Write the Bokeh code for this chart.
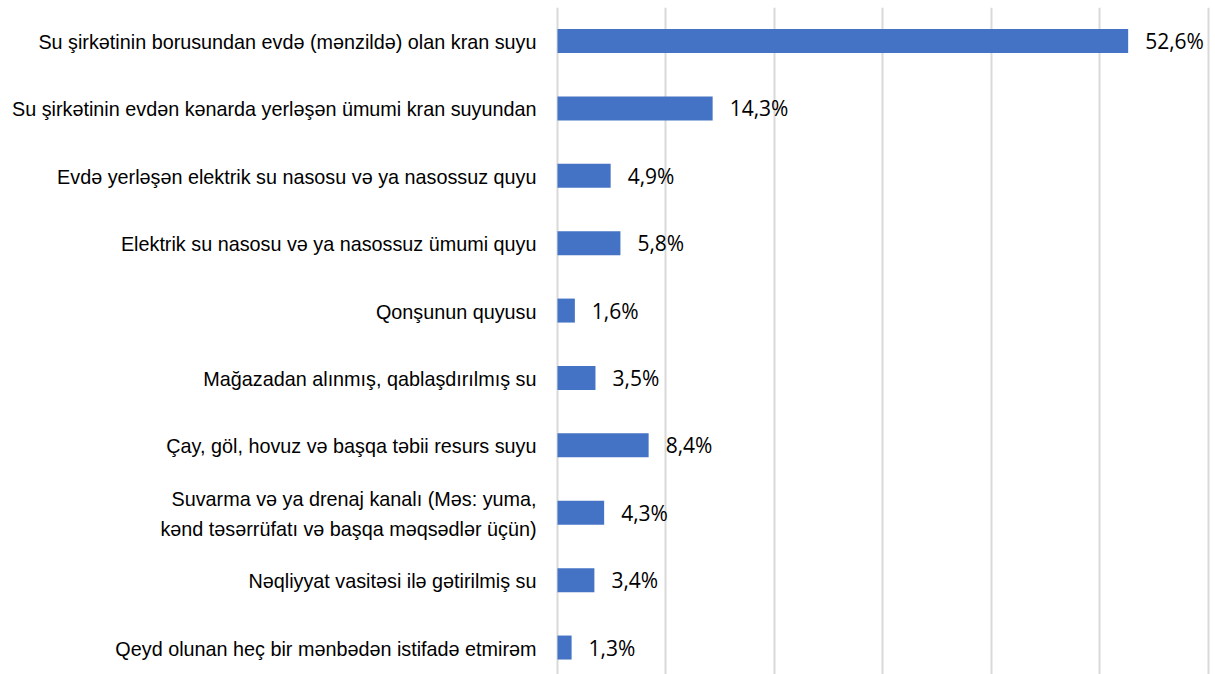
from bokeh.plotting import figure
from bokeh.models import ColumnDataSource, Range1d, Grid, FixedTicker
from bokeh.core.properties import value
from bokeh.embed import file_html
from bokeh.resources import INLINE

categories = [
    "Su şirkətinin borusundan evdə (mənzildə) olan kran suyu",
    "Su şirkətinin evdən kənarda yerləşən ümumi kran suyundan",
    "Evdə yerləşən elektrik su nasosu və ya nasossuz quyu",
    "Elektrik su nasosu və ya nasossuz ümumi quyu",
    "Qonşunun quyusu",
    "Mağazadan alınmış, qablaşdırılmış su",
    "Çay, göl, hovuz və başqa təbii resurs suyu",
    "Suvarma və ya drenaj kanalı (Məs: yuma,\nkənd təsərrüfatı və başqa məqsədlər üçün)",
    "Nəqliyyat vasitəsi ilə gətirilmiş su",
    "Qeyd olunan heç bir mənbədən istifadə etmirəm",
]
values = [52.6, 14.3, 4.9, 5.8, 1.6, 3.5, 8.4, 4.3, 3.4, 1.3]
grid_ticks = [0, 10, 20, 30, 40, 50, 60]

pos = list(range(len(categories)))
value_labels = [f"{v:.1f}".replace(".", ",") + "%" for v in values]

src = ColumnDataSource(dict(
    y=pos, v=values, cat=categories, lab=value_labels,
    zero=[0] * len(values),
))

p = figure(
    width=1215, height=674,
    x_range=Range1d(-51.34, 60.65), y_range=Range1d(9.4, -0.497),
    x_axis_location=None, y_axis_location=None,
    output_backend="svg", toolbar_location=None,
    min_border_left=0, min_border_right=0, min_border_top=7, min_border_bottom=0,
)
p.outline_line_color = None
p.background_fill_color = "white"
p.border_fill_color = "white"
for r in list(p.center):
    if isinstance(r, Grid):
        r.visible = False

grid = Grid(dimension=0, ticker=FixedTicker(ticks=grid_ticks),
            grid_line_color="#d9d9d9", grid_line_width=2,
            bounds=(0, 60.65))
p.add_layout(grid)

p.hbar(y="y", left=0, right="v", height=0.356, source=src,
       fill_color="#4472C4", line_color=None)

p.text(x="v", y="y", text="lab", source=src, x_offset=17,
       text_align="left", text_baseline="middle",
       text_font=value("Open Sans"), text_font_size="21px",
       text_color="#000000")

p.text(x="zero", y="y", text="cat", source=src, x_offset=-21, y_offset=1,
       text_align="right", text_baseline="middle",
       text_font=value("Liberation Sans"), text_font_size="19.8px",
       text_color="#000000", text_line_height=1.35)

open("out.html", "w").write(file_html(p, INLINE))
